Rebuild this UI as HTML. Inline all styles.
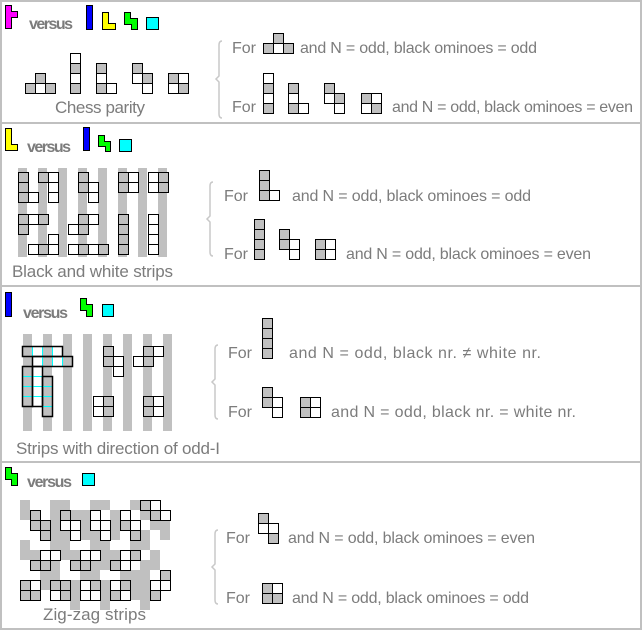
<!DOCTYPE html>
<html><head><meta charset="utf-8"><style>
html,body{margin:0;padding:0;background:#fff;}
svg{display:block;}
text{font-family:"Liberation Sans",sans-serif;fill:#7c7c7c;font-size:16px;}
.b{font-weight:bold;}
.lb{font-size:17px;}
</style></head><body>
<svg id="s" width="642" height="630" xmlns="http://www.w3.org/2000/svg">
<rect x="1" y="1" width="640" height="628" fill="#fff" stroke="#c0c0c0" stroke-width="2"/>
<line x1="0" y1="123" x2="642" y2="123" stroke="#c0c0c0" stroke-width="2"/>
<line x1="0" y1="286" x2="642" y2="286" stroke="#c0c0c0" stroke-width="2"/>
<line x1="0" y1="462" x2="642" y2="462" stroke="#c0c0c0" stroke-width="2"/>
<g id="bg"></g>
<g id="cells"></g>
<path d="M5.5,5.5h6v6h6v6h-6v11h-6z" fill="#ff00ff" stroke="#000"/>
<rect x="86.5" y="5.5" width="6" height="24" fill="#0000ff" stroke="#000"/>
<path d="M102.5,12.5h6v11h7v6h-13z" fill="#ffff00" stroke="#000"/>
<path d="M124.5,12.5h6v6h7v11h-6v-5h-7z" fill="#00ff00" stroke="#000"/>
<rect x="146.5" y="17.5" width="12" height="12" fill="#00ffff" stroke="#000"/>
<text class="b" x="29" y="29" textLength="44">versus</text>
<text class="lb" x="55" y="113" textLength="90">Chess parity</text>

<path d="M5.5,128.5h6v16h6v6h-12z" fill="#ffff00" stroke="#000"/>
<rect x="83.5" y="127.5" width="6" height="23" fill="#0000ff" stroke="#000"/>
<path d="M98.5,135.5h6v6h6v10h-5v-5h-7z" fill="#00ff00" stroke="#000"/>
<rect x="119.5" y="139.5" width="12" height="12" fill="#00ffff" stroke="#000"/>
<text class="b" x="27" y="152" textLength="44">versus</text>
<text class="lb" x="12" y="277" textLength="161">Black and white strips</text>

<rect x="5.5" y="292.5" width="6" height="24" fill="#0000ff" stroke="#000"/>
<path d="M80.5,298.5h6v6h6v12h-6v-6h-6z" fill="#00ff00" stroke="#000"/>
<rect x="102.5" y="304.5" width="11" height="12" fill="#00ffff" stroke="#000"/>
<text class="b" x="23" y="318" textLength="45">versus</text>
<text class="lb" x="16" y="454" textLength="204">Strips with direction of odd-I</text>

<path d="M5.5,467.5h6v6h6v12h-6v-6h-6z" fill="#00ff00" stroke="#000"/>
<rect x="82.5" y="473.5" width="12" height="12" fill="#00ffff" stroke="#000"/>
<text class="b" x="27" y="487" textLength="45">versus</text>
<text class="lb" x="43" y="620" textLength="103">Zig-zag strips</text>

<g fill="none" stroke="#c8c8c8" stroke-width="1.5">
<path d="M222,41 q-3,0 -3,4 v31 l-3,3 l3,3 v32 q0,4 3,4"/>
<path d="M213,182 q-3,0 -3,4 v30 l-3,3 l3,3 v30 q0,4 3,4"/>
<path d="M218,345 q-3,0 -3,4 v30 l-3,3 l3,3 v30 q0,4 3,4"/>
<path d="M218,530 q-3,0 -3,4 v30 l-3,3 l3,3 v30 q0,4 3,4"/>
</g>
<text x="232" y="53">For</text><text x="300" y="53" textLength="237">and N = odd, black ominoes = odd</text>
<text x="232" y="112">For</text><text x="392" y="112" textLength="241">and N = odd, black ominoes = even</text>
<text x="224" y="201">For</text><text x="292" y="201" textLength="239">and N = odd, black ominoes = odd</text>
<text x="224" y="259">For</text><text x="346" y="259" textLength="245">and N = odd, black ominoes = even</text>
<text x="228" y="358">For</text><text x="289" y="358" textLength="252">and N = odd,  black nr. ≠ white nr.</text>
<text x="228" y="417">For</text><text x="331" y="417" textLength="245">and N = odd, black nr. = white nr.</text>
<text x="226" y="543">For</text><text x="288" y="543" textLength="247">and N = odd, black ominoes = even</text>
<text x="226" y="603">For</text><text x="292" y="603" textLength="237">and N = odd, black ominoes = odd</text>
</svg>
<script>
var NS="http://www.w3.org/2000/svg";
function R(par,x,y,w,h,f,s,sw){var r=document.createElementNS(NS,"rect");r.setAttribute("x",x);r.setAttribute("y",y);r.setAttribute("width",w);r.setAttribute("height",h);r.setAttribute("fill",f);if(s){r.setAttribute("stroke",s);r.setAttribute("stroke-width",sw||1);}document.getElementById(par).appendChild(r);}
function L(par,x1,y1,x2,y2,c){var l=document.createElementNS(NS,"line");l.setAttribute("x1",x1);l.setAttribute("y1",y1);l.setAttribute("x2",x2);l.setAttribute("y2",y2);l.setAttribute("stroke",c);document.getElementById(par).appendChild(l);}
var G="#c0c0c0",W="#fff";
function c(x,y,g){R("cells",x+0.5,y+0.5,10,10,g?G:W,"#000");}
function P(list){for(var i=0;i<list.length;i++)c(list[i][0],list[i][1],list[i][2]);}
P([[25,83,1],[35,83,0],[45,83,1],[35,73,1]]);
P([[70,53,0],[70,63,1],[70,73,0],[70,83,1]]);
P([[96,63,1],[96,73,0],[96,83,1],[106,83,0]]);
P([[132,63,1],[132,73,0],[142,73,1],[142,83,0]]);
P([[168,73,1],[178,73,0],[168,83,0],[178,83,1]]);
P([[263,43,1],[273,43,0],[283,43,1],[273,33,1]]);
P([[263,73,0],[263,83,1],[263,93,0],[263,103,1]]);
P([[288,83,1],[288,93,0],[288,103,1],[298,103,0]]);
P([[324,83,1],[324,93,0],[334,93,1],[334,103,0]]);
P([[361,93,1],[371,93,0],[361,103,0],[371,103,1]]);
for(var i=0;i<8;i++)R("bg",18+20*i,168,9,89,G);
P([[18,172,1],[18,182,1],[18,192,1],[28,192,0]]);
P([[38,172,1],[48,172,0],[48,182,0],[48,192,0]]);
P([[78,172,1],[78,182,1],[88,182,0],[88,192,0]]);
P([[118,172,1],[128,172,0],[118,182,1],[128,182,0]]);
P([[148,172,0],[158,172,1],[148,182,0],[158,182,1]]);
P([[18,214,1],[28,214,0],[38,214,1],[18,224,1]]);
P([[28,244,0],[38,244,1],[48,244,0],[48,234,0]]);
P([[68,224,0],[78,224,1],[78,214,1],[88,214,0]]);
P([[68,244,0],[78,244,1],[88,244,0],[98,244,1]]);
P([[118,214,1],[118,224,1],[118,234,1],[118,244,1]]);
P([[148,214,0],[148,224,0],[148,234,0],[148,244,0]]);
P([[259,170,1],[259,180,1],[259,190,1],[269,190,0]]);
P([[254,219,1],[254,229,1],[254,239,1],[254,249,1]]);
P([[279,229,1],[279,239,1],[289,239,0],[289,249,0]]);
P([[315,239,1],[325,239,0],[315,249,1],[325,249,0]]);
for(var i=0;i<8;i++)R("bg",23+20*i,334,9,97,G);
function cyanBar(x,y,w,h,horiz){
 for(var k=1;k<4;k++){ if(horiz)L("cells",x+10*k+0.5,y,x+10*k+0.5,y+h,"#00ffff"); else L("cells",x,y+10*k+0.5,x+w,y+10*k+0.5,"#00ffff");}
 R("cells",x+0.5,y+0.5,w,h,"none","#000",1.5);}
cyanBar(22,346,40,10,1);cyanBar(32,356,40,10,1);
cyanBar(22,366,10,40,0);cyanBar(32,366,10,40,0);cyanBar(42,376,10,40,0);
P([[103,346,1],[103,356,1],[113,356,0],[113,366,0]]);
P([[133,356,0],[143,356,1],[143,346,1],[153,346,0]]);
P([[93,396,0],[103,396,1],[93,406,0],[103,406,1]]);
P([[143,396,1],[153,396,0],[143,406,1],[153,406,0]]);
P([[262,318,1],[262,328,1],[262,338,1],[262,348,1]]);
P([[262,387,1],[262,397,1],[272,397,0],[272,407,0]]);
P([[300,397,1],[310,397,0],[300,407,1],[310,407,0]]);
var bg=[[20,500],[50,500],[60,500],[90,500],[100,500],[130,500],
[20,510],[50,510],[70,510],[80,510],[110,510],[140,510],
[50,520],[80,520],[110,520],[120,520],[150,520],[160,520],
[50,530],[60,530],[80,530],[90,530],[110,530],[140,530],[160,530],
[20,540],[50,540],[60,540],[90,540],[100,540],[130,540],[140,540],
[20,550],[30,550],[60,550],[70,550],[100,550],[110,550],[150,550],
[50,560],[90,560],[100,560],[140,560],[150,560],
[40,570],[50,570],[80,570],[90,570],[120,570],[130,570],[140,570],
[40,580],[70,580],[100,580],[130,580],[140,580],
[70,590],[100,590],[130,590],[140,590],
[70,600],[100,600],[140,600]];
for(var i=0;i<bg.length;i++)R("bg",bg[i][0],bg[i][1],10,10,G);
P([[30,510,1],[30,520,1],[40,520,1],[40,530,1]]);
P([[60,510,1],[60,520,0],[70,520,0],[70,530,0]]);
P([[90,510,0],[90,520,0],[100,520,0],[100,530,0]]);
P([[120,510,0],[120,520,1],[130,520,0],[130,530,1]]);
P([[140,500,1],[150,500,0],[150,510,1],[160,510,0]]);
P([[40,550,0],[50,550,0],[30,560,1],[40,560,1]]);
P([[80,550,0],[90,550,0],[70,560,1],[80,560,1]]);
P([[120,550,0],[130,550,1],[110,560,1],[120,560,0]]);
P([[20,580,1],[30,580,0],[20,590,1],[30,590,1]]);
P([[50,580,1],[60,580,1],[50,590,0],[60,590,1]]);
P([[80,580,0],[90,580,1],[80,590,0],[90,590,0]]);
P([[110,580,0],[120,580,1],[110,590,1],[120,590,0]]);
P([[160,570,1],[160,580,0],[150,580,0],[150,590,1]]);
P([[258,513,1],[258,523,0],[268,523,0],[268,533,1]]);
P([[262,583,1],[272,583,0],[262,593,1],[272,593,1]]);
</script>
</body></html>
